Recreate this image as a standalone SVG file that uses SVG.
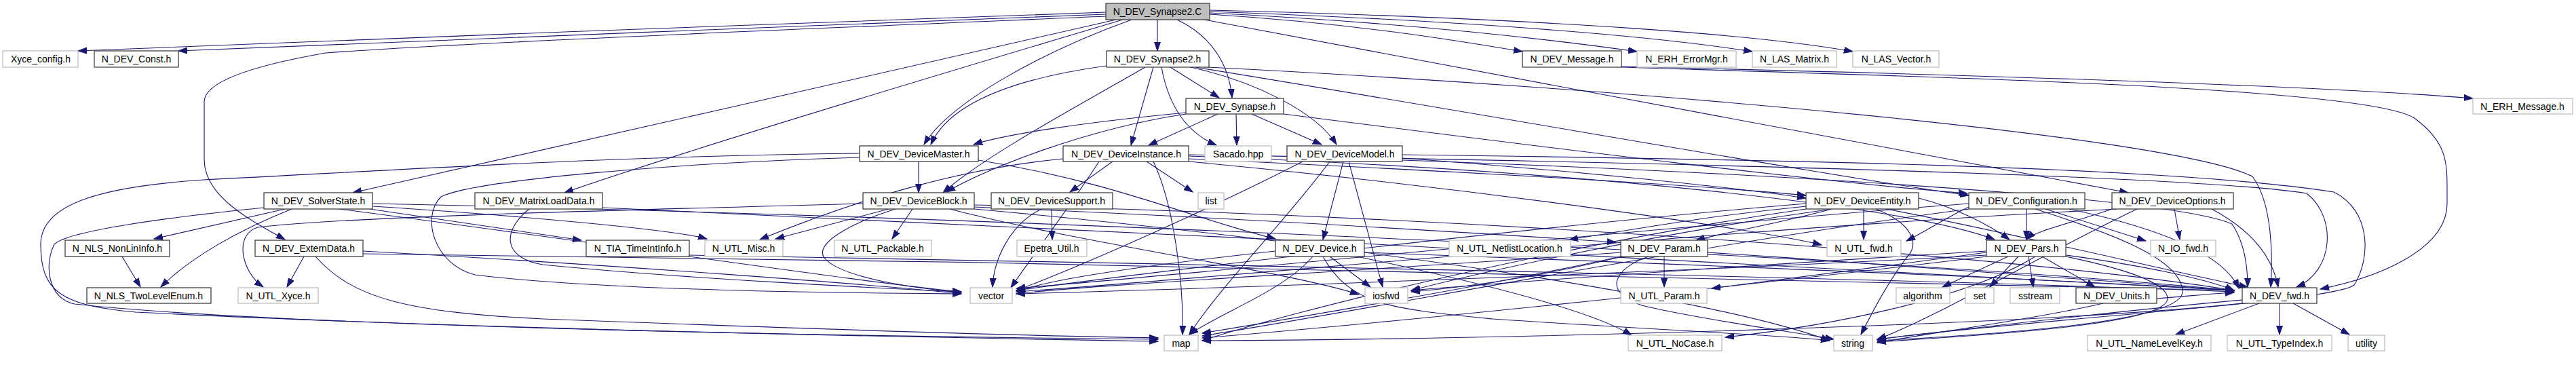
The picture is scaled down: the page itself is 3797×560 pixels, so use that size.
<svg xmlns="http://www.w3.org/2000/svg" width="3797" height="560" viewBox="0 0 3797 560">
<style>
.d rect{fill:#fff;stroke:#404040;stroke-width:1.3}
.l rect{fill:#fff;stroke:#bfbfbf;stroke-width:1.3}
.r rect{fill:#bfbfbf;stroke:#404040;stroke-width:1.3}
text{font-family:"Liberation Sans",Arial,sans-serif;font-size:14px;text-anchor:middle;fill:#000}
#edges path{fill:none;stroke:#191970;stroke-width:1.1;marker-end:url(#a)}
</style>
<defs>
<marker id="a" markerUnits="userSpaceOnUse" markerWidth="14" markerHeight="10" refX="13" refY="5" orient="auto">
<path d="M0,0.5 L13,5 L0,9.5 z" fill="#191970" stroke="#191970" stroke-width="1"/>
</marker>
</defs>
<rect width="3797" height="560" fill="#fff"/>
<g id="edges">
<path d="M1630,18 C1300,28 500,60 115,75"/>
<path d="M1630,21 C1300,33 600,62 263,75"/>
<path d="M1630,24 C1250,40 700,62 480,78 C400,92 301,115 301,150 L301,235 C301,290 370,325 420,353"/>
<path d="M1645,29 C1450,75 800,220 520,284"/>
<path d="M1655,29 C1450,90 1000,225 832,284"/>
<path d="M1668,29 C1540,75 1400,150 1362,213"/>
<path d="M1706,29 L1706,75"/>
<path d="M1735,29 C1790,55 1812,100 1816,144"/>
<path d="M1783,21 C2000,35 2150,60 2244,76"/>
<path d="M1783,19 C2100,35 2300,60 2413,76"/>
<path d="M1783,17 C2200,32 2450,55 2583,76"/>
<path d="M1783,15 C2300,28 2600,52 2731,76"/>
<path d="M1775,29 C2200,110 2800,220 3137,284"/>
<path d="M2390,98 C2900,110 3400,125 3645,145"/>
<path d="M2390,99 C2900,115 3500,130 3560,175 C3607,210 3607,240 3607,280 L3607,300 C3607,370 3500,410 3420,426"/>
<path d="M1631,97 C1500,115 1400,150 1372,213"/>
<path d="M1700,99 L1667,214"/>
<path d="M1712,99 C1725,170 1760,200 1793,214"/>
<path d="M1725,99 L1797,144"/>
<path d="M1688,99 C1600,150 1450,230 1390,284"/>
<path d="M1755,99 C1850,120 1940,165 1970,213"/>
<path d="M1762,99 C2200,170 2700,260 2902,288"/>
<path d="M1780,99 C2400,130 3200,200 3320,260 C3350,300 3350,380 3347,423"/>
<path d="M1795,168 L1693,214"/>
<path d="M1822,168 L1823,214"/>
<path d="M1845,168 L1948,213"/>
<path d="M1748,168 C1600,190 1450,250 1395,283"/>
<path d="M1748,166 C1600,180 1480,198 1435,213"/>
<path d="M1892,168 C2300,220 2700,270 2900,285"/>
<path d="M1354,238 L1354,284"/>
<path d="M1267,226 C900,230 600,250 300,265 C150,275 60,300 60,360 C60,430 90,450 200,460 C700,485 1400,498 1707,503"/>
<path d="M1442,236 C1650,270 1750,320 1880,352"/>
<path d="M1267,232 C1000,240 700,265 650,290 C620,320 640,390 700,405 C900,430 1300,432 1417,433"/>
<path d="M1640,238 L1577,283"/>
<path d="M1690,238 L1758,283"/>
<path d="M1752,234 C2100,250 2500,272 2662,288"/>
<path d="M1567,234 C1400,250 1250,300 1120,353"/>
<path d="M1620,238 C1580,300 1520,380 1490,424"/>
<path d="M1700,238 C1730,300 1745,420 1743,493"/>
<path d="M1752,230 C2300,250 2800,300 2940,353"/>
<path d="M1752,228 C2500,240 3250,260 3400,285 C3445,320 3440,400 3385,423"/>
<path d="M1752,238 C2200,280 2600,340 2685,361"/>
<path d="M1980,238 L1950,353"/>
<path d="M1988,238 L2038,423"/>
<path d="M2067,233 C2300,250 2550,275 2662,292"/>
<path d="M2067,228 C2600,235 3200,245 3440,283 C3495,310 3495,380 3470,420 C3440,445 3000,470 2767,500"/>
<path d="M1920,238 C1800,300 1600,390 1498,428"/>
<path d="M1960,238 C1900,320 1800,420 1753,493"/>
<path d="M2067,236 C2600,255 3200,290 3290,330 C3310,360 3313,400 3313,423"/>
<path d="M1345,308 L1315,352"/>
<path d="M1310,308 L1143,352"/>
<path d="M1320,308 C1250,330 1200,360 1215,380 C1240,410 1350,425 1417,431"/>
<path d="M1436,305 C1800,320 2200,345 2382,357"/>
<path d="M1400,308 C1600,360 1900,400 2003,434"/>
<path d="M1436,308 C1900,350 2500,430 2697,502"/>
<path d="M1272,300 C900,310 500,320 380,335 C345,345 355,400 388,423"/>
<path d="M1436,302 C2200,320 3000,380 3293,428"/>
<path d="M1550,308 L1551,353"/>
<path d="M1535,308 C1490,330 1465,380 1463,423"/>
<path d="M420,308 L227,352"/>
<path d="M430,308 C350,340 280,380 237,423"/>
<path d="M545,308 L857,354"/>
<path d="M389,306 C250,320 100,340 80,360 C65,390 70,440 110,448 C400,480 1200,495 1707,500"/>
<path d="M549,304 C800,320 1000,340 1042,352"/>
<path d="M549,300 C1500,320 2800,380 3293,428"/>
<path d="M500,308 C900,360 1300,420 1417,430"/>
<path d="M180,378 L207,423"/>
<path d="M448,378 L423,423"/>
<path d="M465,378 C520,440 600,460 800,470 C1200,485 1500,495 1707,498"/>
<path d="M535,370 C900,390 1300,420 1417,433"/>
<path d="M535,374 C1500,385 2800,410 3293,428"/>
<path d="M780,308 C740,340 740,380 800,390 C1000,410 1300,425 1417,430"/>
<path d="M888,306 C1500,330 2800,400 3293,428"/>
<path d="M1016,376 C1800,390 2800,410 3293,430"/>
<path d="M1960,378 L2020,423"/>
<path d="M1935,378 C1890,430 1800,460 1753,493"/>
<path d="M1880,370 C1700,390 1550,410 1498,430"/>
<path d="M1950,378 C1990,450 2050,455 2200,470 C2500,490 2650,495 2697,502"/>
<path d="M2011,372 C2500,390 3000,410 3293,428"/>
<path d="M2000,378 C2200,420 2350,460 2405,494"/>
<path d="M2453,378 L2453,423"/>
<path d="M2430,378 C2380,395 2360,430 2420,450 C2500,470 2650,490 2703,500"/>
<path d="M2517,372 C2800,390 3100,415 3293,428"/>
<path d="M2400,376 C2300,400 2200,420 2080,430"/>
<path d="M2389,372 C2000,400 1600,420 1498,433"/>
<path d="M2389,378 C2200,420 1900,470 1772,491"/>
<path d="M2747,308 L2747,353"/>
<path d="M2765,308 C2820,330 2830,360 2810,380 C2780,420 2760,460 2743,493"/>
<path d="M2828,292 C2880,305 2930,330 2962,353"/>
<path d="M2662,304 C2500,320 2400,340 2313,353"/>
<path d="M2700,308 C2620,330 2530,345 2500,354"/>
<path d="M2780,308 C2950,340 3200,400 3313,423"/>
<path d="M2662,300 C2300,330 1700,400 1498,428"/>
<path d="M2662,308 C2300,360 1900,460 1772,502"/>
<path d="M2700,308 C2400,350 2150,410 2080,428"/>
<path d="M2987,308 L2987,353"/>
<path d="M3015,308 L3163,355"/>
<path d="M2902,305 C2870,320 2840,340 2810,355"/>
<path d="M3000,308 C3100,340 3217,380 3217,430 C3217,470 3000,490 2767,502"/>
<path d="M3050,308 C3200,340 3280,380 3300,425"/>
<path d="M2902,300 C2500,330 1800,400 1498,425"/>
<path d="M2902,308 C2500,360 2000,460 1772,495"/>
<path d="M3205,308 L3213,353"/>
<path d="M3113,308 C3050,330 3000,340 2987,353"/>
<path d="M3260,308 C3320,340 3350,380 3358,423"/>
<path d="M3120,308 C2500,340 1800,410 1498,430"/>
<path d="M3150,308 C3000,380 2850,470 2767,500"/>
<path d="M2960,378 L2863,423"/>
<path d="M2975,378 L2933,423"/>
<path d="M2990,378 L2997,423"/>
<path d="M3010,378 L3088,423"/>
<path d="M3045,376 C3150,390 3250,410 3293,428"/>
<path d="M3045,378 C3150,400 3195,420 3195,440 C3195,480 2900,495 2767,504"/>
<path d="M2928,372 C2800,390 2600,415 2523,425"/>
<path d="M2928,376 C2500,400 1800,425 1498,433"/>
<path d="M2928,378 C2500,430 2000,480 1772,498"/>
<path d="M2928,370 C2600,390 2300,410 2080,428"/>
<path d="M3000,378 C2900,440 2700,480 2543,497"/>
<path d="M3179,440 C3230,436 3270,432 3293,431"/>
<path d="M3100,447 C3000,470 2850,490 2767,505"/>
<path d="M3330,447 L3207,493"/>
<path d="M3360,447 L3360,493"/>
<path d="M3380,447 L3463,493"/>
<path d="M3305,442 C3100,460 2900,485 2767,500"/>
<path d="M3305,447 C3000,480 2200,500 1772,502"/>
</g>
<g id="n_root" class="r"><rect x="1630" y="5" width="153" height="24"/><text x="1706" y="22">N_DEV_Synapse2.C</text></g>
<g id="n_xyce_config" class="l"><rect x="4" y="75" width="111" height="24"/><text x="60" y="92">Xyce_config.h</text></g>
<g id="n_dev_const" class="d"><rect x="139" y="75" width="124" height="24"/><text x="201" y="92">N_DEV_Const.h</text></g>
<g id="n_synapse2_h" class="d"><rect x="1631" y="75" width="151" height="24"/><text x="1706" y="92">N_DEV_Synapse2.h</text></g>
<g id="n_dev_message" class="d"><rect x="2244" y="75" width="146" height="24"/><text x="2317" y="92">N_DEV_Message.h</text></g>
<g id="n_erh_errormgr" class="l"><rect x="2413" y="75" width="146" height="24"/><text x="2486" y="92">N_ERH_ErrorMgr.h</text></g>
<g id="n_las_matrix" class="l"><rect x="2583" y="75" width="124" height="24"/><text x="2645" y="92">N_LAS_Matrix.h</text></g>
<g id="n_las_vector" class="l"><rect x="2731" y="75" width="127" height="24"/><text x="2795" y="92">N_LAS_Vector.h</text></g>
<g id="n_synapse_h" class="d"><rect x="1748" y="145" width="144" height="23"/><text x="1820" y="162">N_DEV_Synapse.h</text></g>
<g id="n_erh_message" class="l"><rect x="3645" y="145" width="147" height="23"/><text x="3718" y="162">N_ERH_Message.h</text></g>
<g id="n_devicemaster" class="d"><rect x="1267" y="215" width="175" height="23"/><text x="1354" y="232">N_DEV_DeviceMaster.h</text></g>
<g id="n_deviceinstance" class="d"><rect x="1567" y="215" width="185" height="23"/><text x="1660" y="232">N_DEV_DeviceInstance.h</text></g>
<g id="n_sacado" class="l"><rect x="1776" y="215" width="98" height="23"/><text x="1825" y="232">Sacado.hpp</text></g>
<g id="n_devicemodel" class="d"><rect x="1897" y="215" width="170" height="23"/><text x="1982" y="232">N_DEV_DeviceModel.h</text></g>
<g id="n_solverstate" class="d"><rect x="389" y="284" width="160" height="24"/><text x="469" y="301">N_DEV_SolverState.h</text></g>
<g id="n_matrixloaddata" class="d"><rect x="700" y="284" width="188" height="24"/><text x="794" y="301">N_DEV_MatrixLoadData.h</text></g>
<g id="n_deviceblock" class="d"><rect x="1272" y="284" width="164" height="24"/><text x="1354" y="301">N_DEV_DeviceBlock.h</text></g>
<g id="n_devicesupport" class="d"><rect x="1461" y="284" width="179" height="24"/><text x="1550" y="301">N_DEV_DeviceSupport.h</text></g>
<g id="n_list" class="l"><rect x="1766" y="284" width="38" height="24"/><text x="1785" y="301">list</text></g>
<g id="n_deviceentity" class="d"><rect x="2662" y="284" width="166" height="24"/><text x="2745" y="301">N_DEV_DeviceEntity.h</text></g>
<g id="n_configuration" class="d"><rect x="2902" y="284" width="171" height="24"/><text x="2987" y="301">N_DEV_Configuration.h</text></g>
<g id="n_deviceoptions" class="d"><rect x="3113" y="284" width="179" height="24"/><text x="3202" y="301">N_DEV_DeviceOptions.h</text></g>
<g id="n_nonlininfo" class="d"><rect x="96" y="354" width="154" height="24"/><text x="173" y="371">N_NLS_NonLinInfo.h</text></g>
<g id="n_externdata" class="d"><rect x="376" y="354" width="159" height="24"/><text x="455" y="371">N_DEV_ExternData.h</text></g>
<g id="n_tia_timeintinfo" class="d"><rect x="864" y="354" width="152" height="24"/><text x="940" y="371">N_TIA_TimeIntInfo.h</text></g>
<g id="n_utl_misc" class="l"><rect x="1039" y="354" width="115" height="24"/><text x="1096" y="371">N_UTL_Misc.h</text></g>
<g id="n_utl_packable" class="l"><rect x="1230" y="354" width="143" height="24"/><text x="1301" y="371">N_UTL_Packable.h</text></g>
<g id="n_epetra_util" class="l"><rect x="1499" y="354" width="103" height="24"/><text x="1550" y="371">Epetra_Util.h</text></g>
<g id="n_device" class="d"><rect x="1880" y="354" width="131" height="24"/><text x="1945" y="371">N_DEV_Device.h</text></g>
<g id="n_netlistlocation" class="l"><rect x="2136" y="354" width="179" height="24"/><text x="2225" y="371">N_UTL_NetlistLocation.h</text></g>
<g id="n_dev_param" class="d"><rect x="2389" y="354" width="128" height="24"/><text x="2453" y="371">N_DEV_Param.h</text></g>
<g id="n_utl_fwd" class="l"><rect x="2693" y="354" width="109" height="24"/><text x="2747" y="371">N_UTL_fwd.h</text></g>
<g id="n_pars" class="d"><rect x="2928" y="354" width="117" height="24"/><text x="2987" y="371">N_DEV_Pars.h</text></g>
<g id="n_io_fwd" class="l"><rect x="3170" y="354" width="96" height="24"/><text x="3218" y="371">N_IO_fwd.h</text></g>
<g id="n_twolevelenum" class="d"><rect x="128" y="424" width="183" height="23"/><text x="219" y="441">N_NLS_TwoLevelEnum.h</text></g>
<g id="n_utl_xyce" class="l"><rect x="351" y="424" width="118" height="23"/><text x="410" y="441">N_UTL_Xyce.h</text></g>
<g id="n_vector" class="l"><rect x="1430" y="424" width="62" height="23"/><text x="1461" y="441">vector</text></g>
<g id="n_iosfwd" class="l"><rect x="2012" y="424" width="63" height="23"/><text x="2043" y="441">iosfwd</text></g>
<g id="n_utl_param" class="l"><rect x="2389" y="424" width="127" height="23"/><text x="2453" y="441">N_UTL_Param.h</text></g>
<g id="n_algorithm" class="l"><rect x="2795" y="424" width="79" height="23"/><text x="2834" y="441">algorithm</text></g>
<g id="n_set" class="l"><rect x="2897" y="424" width="42" height="23"/><text x="2918" y="441">set</text></g>
<g id="n_sstream" class="l"><rect x="2963" y="424" width="73" height="23"/><text x="3000" y="441">sstream</text></g>
<g id="n_units" class="d"><rect x="3060" y="424" width="119" height="23"/><text x="3120" y="441">N_DEV_Units.h</text></g>
<g id="n_dev_fwd" class="d"><rect x="3305" y="424" width="110" height="23"/><text x="3360" y="441">N_DEV_fwd.h</text></g>
<g id="n_map" class="l"><rect x="1716" y="494" width="50" height="23"/><text x="1741" y="511">map</text></g>
<g id="n_nocase" class="l"><rect x="2400" y="494" width="138" height="23"/><text x="2469" y="511">N_UTL_NoCase.h</text></g>
<g id="n_string" class="l"><rect x="2703" y="494" width="57" height="23"/><text x="2731" y="511">string</text></g>
<g id="n_namelevelkey" class="l"><rect x="3077" y="494" width="182" height="23"/><text x="3168" y="511">N_UTL_NameLevelKey.h</text></g>
<g id="n_typeindex" class="l"><rect x="3283" y="494" width="154" height="23"/><text x="3360" y="511">N_UTL_TypeIndex.h</text></g>
<g id="n_utility" class="l"><rect x="3461" y="494" width="54" height="23"/><text x="3488" y="511">utility</text></g>
</svg>
